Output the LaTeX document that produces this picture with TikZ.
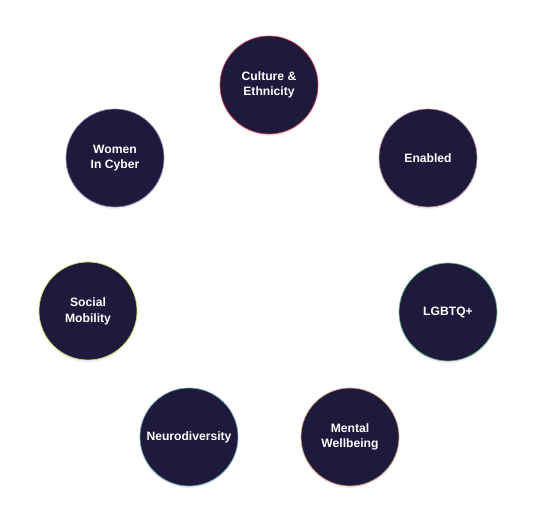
\documentclass[tikz,border=0pt]{standalone}
\usepackage{fontspec}
\setmainfont{Liberation Sans}
\usetikzlibrary{shadows}
\definecolor{navy}{HTML}{1E1A3C}
\definecolor{rimred}{HTML}{D23A4E}
\definecolor{rimpink}{HTML}{B58A9A}
\definecolor{rimgreen}{HTML}{6FB59A}
\definecolor{rimpeach}{HTML}{D9A07E}
\definecolor{rimteal}{HTML}{6A9FB8}
\definecolor{rimyellow}{HTML}{D8D86A}
\definecolor{rimviolet}{HTML}{8A86B8}

\begin{document}
\begin{tikzpicture}[
  x=0.75pt,y=-0.75pt,
  font=\fontsize{9.1}{11.8}\selectfont\bfseries,
  bub/.style={circle,fill=navy,text=white,align=center,minimum size=73.5pt,inner sep=0pt,line width=0.5pt,
    drop shadow={shadow xshift=0pt,shadow yshift=-1.5pt,opacity=0.07,fill=black}}]
  \useasboundingbox (0,0) rectangle (538,530);
  % ring of groups
  \node[bub,draw=rimred] (cult) at (269,85) {Culture \&\\Ethnicity};
  \node[bub,draw=rimpink] (enab) at (428,158) {Enabled};
  \node[bub,draw=rimgreen] (lgbt) at (448,312) {LGBTQ+};
  \node[bub,draw=rimpeach] (ment) at (350,437) {Mental\\Wellbeing};
  \node[bub,draw=rimteal] (neur) at (189,437) {Neurodiversity};
  \node[bub,draw=rimyellow] (soc) at (88,311) {Social\\Mobility};
  \node[bub,draw=rimviolet] (wom) at (115,158) {Women\\In Cyber};
\end{tikzpicture}
\end{document}
